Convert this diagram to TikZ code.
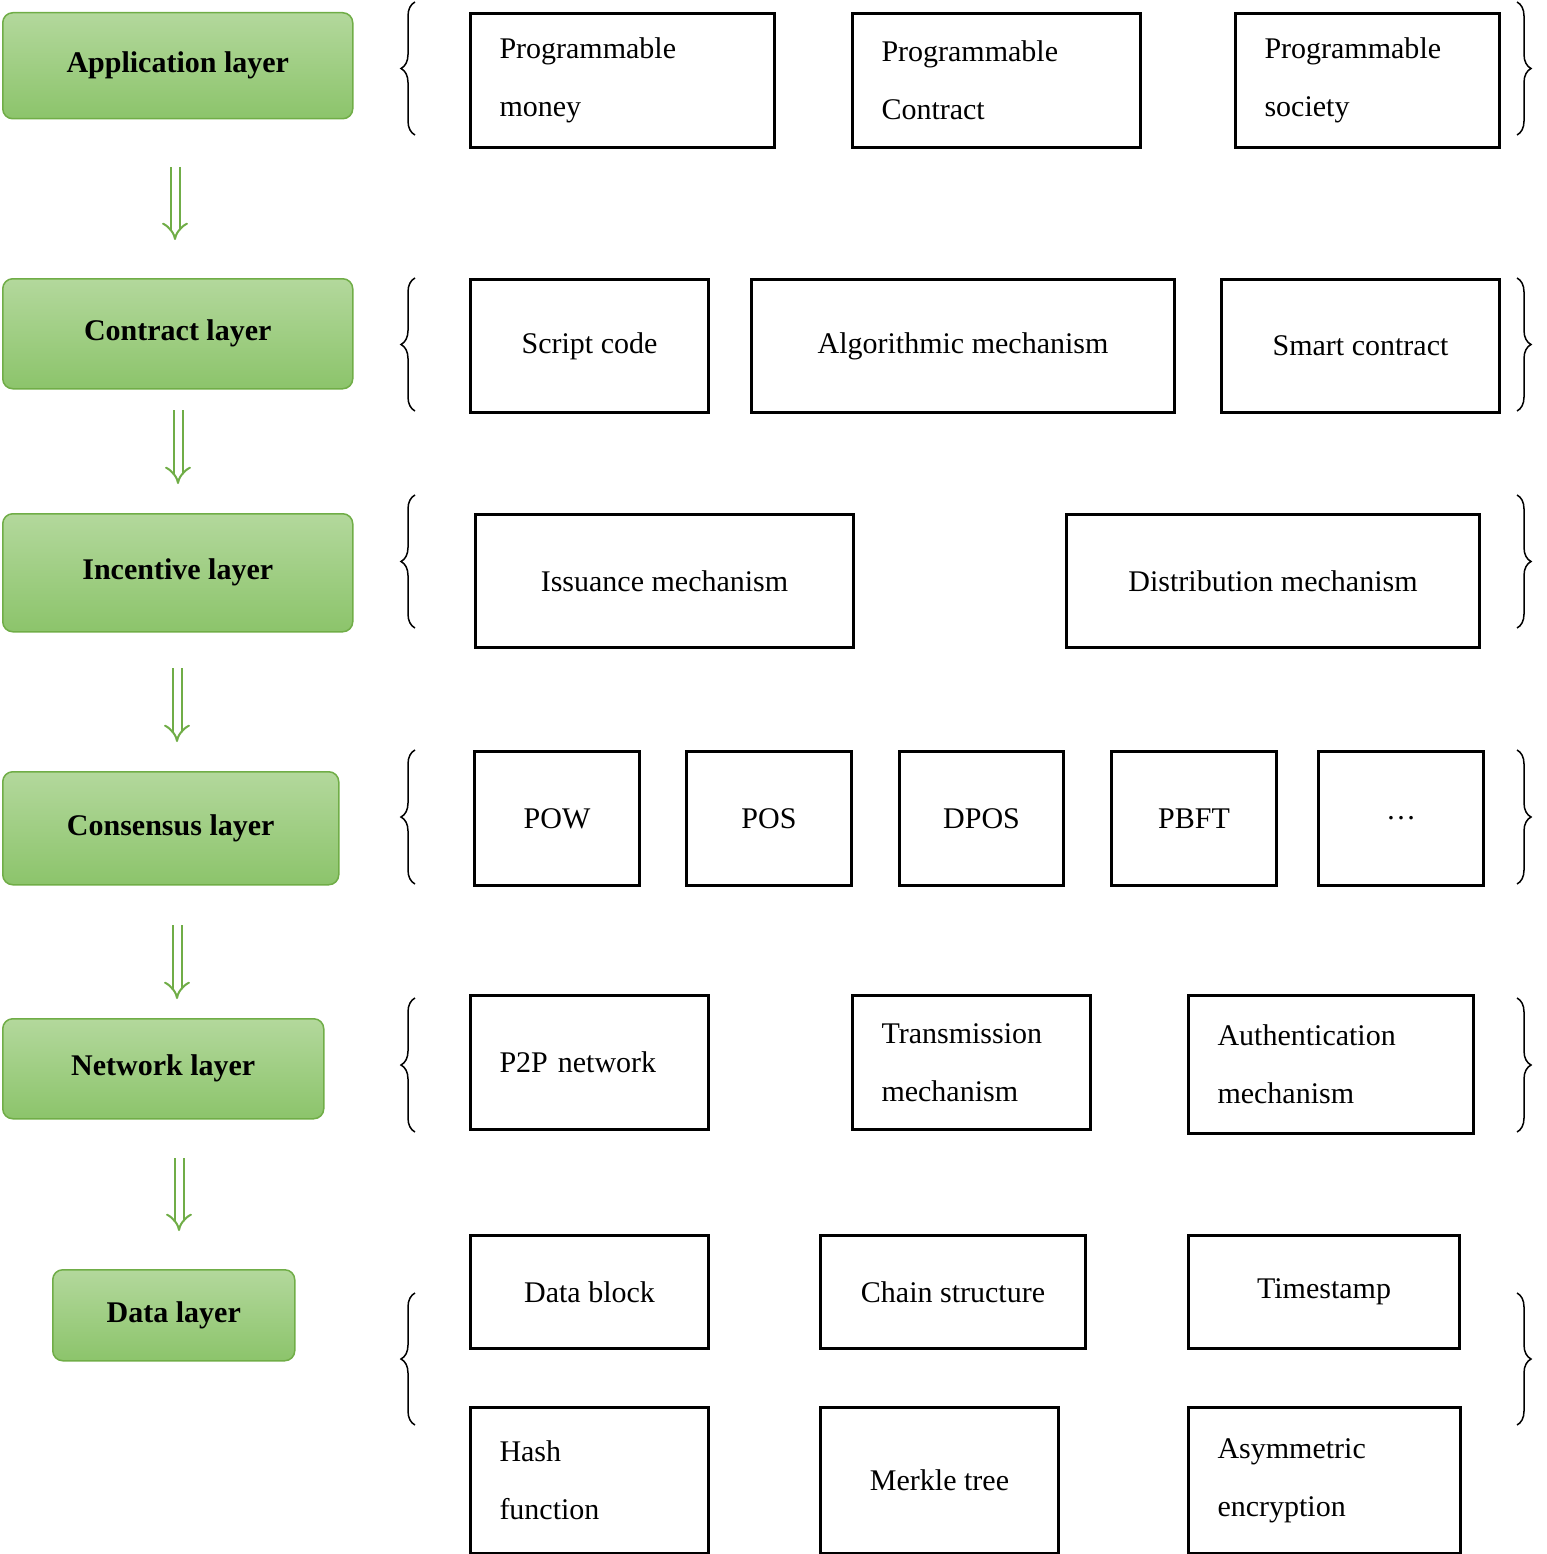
\documentclass[tikz,border=0pt]{standalone}
\usepackage{fontspec}
\setmainfont{Liberation Serif}
\usetikzlibrary{arrows.meta,decorations.pathreplacing}
\definecolor{gborder}{HTML}{70AD47}
\definecolor{gtop}{HTML}{B3D89C}
\definecolor{gbot}{HTML}{8CC46B}
\begin{document}
\begin{tikzpicture}[x=1pt,y=-1pt,
 layer/.style={draw=gborder,line width=1.5pt,rounded corners=10pt,top color=gtop,bottom color=gbot,anchor=north west,font=\fontsize{30}{36}\selectfont\bfseries,inner sep=0pt},
 box/.style={draw,line width=3pt,anchor=north west,font=\fontsize{30}{58}\selectfont,inner sep=0pt,align=center},
 lbox/.style={box,align=left},
 arr/.style={draw=gborder,double,double distance=7pt,line width=2pt,-{Implies[length=8pt]}},
 br/.style={decorate,decoration={brace,amplitude=14pt},line width=1.5pt}]
\useasboundingbox (0,0) rectangle (1546,1554);
% layers
\node[layer,minimum width=350pt,minimum height=106pt] (app) at (2,12) {Application layer};
\node[layer,minimum width=350pt,minimum height=110pt] (con) at (2,278) {Contract layer};
\node[layer,minimum width=350pt,minimum height=118pt] (inc) at (2,513) {Incentive layer};
\node[layer,minimum width=336pt,minimum height=113pt] (cns) at (2,771) {Consensus layer};
\node[layer,minimum width=321pt,minimum height=100pt] (net) at (2,1018) {Network layer};
\node[layer,minimum width=242pt,minimum height=91pt] (dat) at (52,1269) {Data layer};
% arrows
\coordinate (a1s) at (175,167); \coordinate (a1e) at (175,240);
\coordinate (a2s) at (178,410); \coordinate (a2e) at (178,484);
\coordinate (a3s) at (177,668); \coordinate (a3e) at (177,742);
\coordinate (a4s) at (177,925); \coordinate (a4e) at (177,999);
\coordinate (a5s) at (179,1158); \coordinate (a5e) at (179,1231);
\foreach \i in {1,...,5} \draw[arr] (a\i s) -- (a\i e);
% braces
\foreach \t/\b in {2/135,278/411,495/628,750/884,998/1132,1293/1425}{
 \draw[br] (415,\b) -- (415,\t);
 \draw[br] (1517,\t) -- (1517,\b);
}
% row 1
\node[lbox,minimum width=304pt,minimum height=134pt,text width=246pt] (r1a) at (469,12) {Programmable\\money};
\node[lbox,minimum width=288pt,minimum height=134pt,text width=230pt] (r1b) at (851,12) {Programmable\\Contract};
\node[lbox,minimum width=264pt,minimum height=134pt,text width=206pt] (r1c) at (1234,12) {Programmable\\society};
% row 2
\node[box,minimum width=238pt,minimum height=133pt] (r2a) at (469,278) {Script code};
\node[box,minimum width=423pt,minimum height=133pt] (r2b) at (750,278) {Algorithmic mechanism};
\node[box,minimum width=278pt,minimum height=133pt] (r2c) at (1220,278) {Smart contract};
% row 3
\node[box,minimum width=378pt,minimum height=133pt] (r3a) at (474,513) {Issuance mechanism};
\node[box,minimum width=413pt,minimum height=133pt] (r3b) at (1065,513) {Distribution mechanism};
% row 4
\node[box,minimum width=165pt,minimum height=134pt] (r4a) at (473,750) {POW};
\node[box,minimum width=165pt,minimum height=134pt] (r4b) at (685,750) {POS};
\node[box,minimum width=164pt,minimum height=134pt] (r4c) at (898,750) {DPOS};
\node[box,minimum width=165pt,minimum height=134pt] (r4d) at (1110,750) {PBFT};
\node[box,minimum width=165pt,minimum height=134pt] (r4e) at (1317,750) {\dots};
% row 5
\node[lbox,minimum width=238pt,minimum height=134pt,text width=180pt] (r5a) at (469,994) {P2P network};
\node[lbox,minimum width=238pt,minimum height=134pt,text width=180pt] (r5b) at (851,994) {Transmission\\mechanism};
\node[lbox,minimum width=285pt,minimum height=138pt,text width=227pt] (r5c) at (1187,994) {Authentication\\mechanism};
% row 6
\node[box,minimum width=238pt,minimum height=113pt] (r6a) at (469,1234) {Data block};
\node[box,minimum width=265pt,minimum height=113pt] (r6b) at (819,1234) {Chain structure};
\node[box,minimum width=271pt,minimum height=113pt] (r6c) at (1187,1234) {Timestamp};
% row 7
\node[lbox,minimum width=238pt,minimum height=146pt,text width=180pt] (r7a) at (469,1406) {Hash\\function};
\node[box,minimum width=238pt,minimum height=146pt] (r7b) at (819,1406) {Merkle tree};
\node[lbox,minimum width=272pt,minimum height=146pt,text width=214pt] (r7c) at (1187,1406) {Asymmetric\\encryption};
\end{tikzpicture}
\end{document}
